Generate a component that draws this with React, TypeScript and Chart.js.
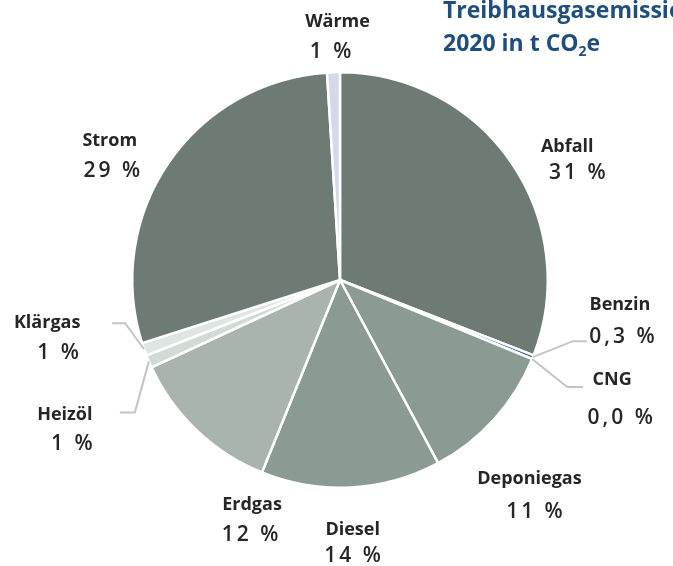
import React, { useEffect, useRef } from "react";
import { Chart, registerables } from "chart.js";

Chart.register(...registerables);

const categories = ["Abfall", "Benzin", "CNG", "Deponiegas", "Diesel", "Erdgas", "Heizöl", "Klärgas", "Strom", "Wärme"];
const shares = [31, 0.3, 0, 11, 14, 12, 1, 1, 29, 1];
const shareLabels = ["31 %", "0,3 %", "0,0 %", "11 %", "14 %", "12 %", "1 %", "1 %", "29 %", "1 %"];
const sliceColors = ["#6e7b75", "#2f5b8c", "#2f5b8c", "#8c9a94", "#8c9a94", "#aab4af", "#d2dad6", "#dfe5e2", "#6e7b75", "#d4d8eb"];

const titleLine1 = "Treibhausgasemissionen";
const titleLine2 = ["2020 in t CO", "2", "e"];

// label layout (style): extra radius beyond the slice edge, then offsets for name / percent text
// [extra, nameDx, nameDy, pctDx, pctDy]
const labelLayout = [
  [30, 31, 1, 41, 27],
  [0, 87, -52, 89, -20],
  [0, 80, 21, 88, 59],
  [30, 13, 40, 18, 73],
  [30, 0, 12, 0, 39],
  [30, 76, 53, 74, 83],
  [0, -84, 53, -77, 83],
  [0, -97, -26, -86, 4],
  [30, -34, -5, -32, 25],
  [30, 5, -20, -2, 10],
];
// leader lines for small slices: [elbowDx, elbowDy, endDx, endDy] relative to slice edge
const leaders: (number[] | null)[] = [
  null,
  [40, -16, 54, -16],
  [35, 28, 51, 28],
  null,
  null,
  null,
  [-14, 51, -29, 51],
  [-19, -26, -32, -26],
  null,
  null,
];

const labelPlugin = {
  id: "pieLabels",
  afterDraw(chart: any) {
    const ctx = chart.ctx as CanvasRenderingContext2D;
    const meta = chart.getDatasetMeta(0);
    ctx.save();
    meta.data.forEach((arc: any, i: number) => {
      const { x, y, startAngle, endAngle, outerRadius } = arc.getProps(["x", "y", "startAngle", "endAngle", "outerRadius"], true);
      const mid = (startAngle + endAngle) / 2;
      const [extra, ndx, ndy, pdx, pdy] = labelLayout[i];
      const ax = x + Math.cos(mid) * (outerRadius + extra);
      const ay = y + Math.sin(mid) * (outerRadius + extra);
      const ld = leaders[i];
      if (ld) {
        ctx.beginPath();
        ctx.strokeStyle = "#c4c4c4";
        ctx.lineWidth = 2;
        ctx.moveTo(ax, ay);
        ctx.lineTo(ax + ld[0], ay + ld[1]);
        ctx.lineTo(ax + ld[2], ay + ld[3]);
        ctx.stroke();
      }
      ctx.textAlign = "center";
      ctx.textBaseline = "middle";
      ctx.fillStyle = "#262626";
      (ctx as any).letterSpacing = "0px";
      ctx.font = "bold 18px 'Open Sans'";
      ctx.fillText(categories[i], ax + ndx, ay + ndy);
      (ctx as any).letterSpacing = "3px";
      ctx.font = "600 21px 'Open Sans'";
      ctx.fillText(shareLabels[i], ax + pdx + 1.5, ay + pdy);
    });
    (ctx as any).letterSpacing = "0px";
    // title
    ctx.fillStyle = "#1e4e7d";
    ctx.textAlign = "left";
    ctx.textBaseline = "alphabetic";
    ctx.font = "bold 23px 'Open Sans'";
    ctx.fillText(titleLine1, 443, 18);
    let tx = 443;
    ctx.fillText(titleLine2[0], tx, 51);
    tx += ctx.measureText(titleLine2[0]).width;
    ctx.font = "bold 14px 'Open Sans'";
    ctx.fillText(titleLine2[1], tx, 56);
    tx += ctx.measureText(titleLine2[1]).width;
    ctx.font = "bold 23px 'Open Sans'";
    ctx.fillText(titleLine2[2], tx, 51);
    ctx.restore();
  },
};

export default function App() {
  const ref = useRef<HTMLCanvasElement>(null);
  useEffect(() => {
    if (!ref.current) return;
    const chart = new Chart(ref.current, {
      type: "pie",
      data: {
        labels: categories,
        datasets: [
          {
            data: shares,
            backgroundColor: sliceColors,
            borderColor: "#ffffff",
            borderWidth: 2.5,
          },
        ],
      },
      options: {
        responsive: false,
        animation: false,
        layout: { padding: { left: 131, right: 124, top: 71, bottom: 77 } },
        plugins: {
          legend: { display: false },
          tooltip: { enabled: false },
        },
      },
      plugins: [labelPlugin],
    });
    return () => chart.destroy();
  }, []);
  return (
    <div style={{ position: "fixed", left: 0, top: 0, width: 673, height: 566, background: "#fff" }}>
      <canvas ref={ref} width={673} height={566} />
    </div>
  );
}
